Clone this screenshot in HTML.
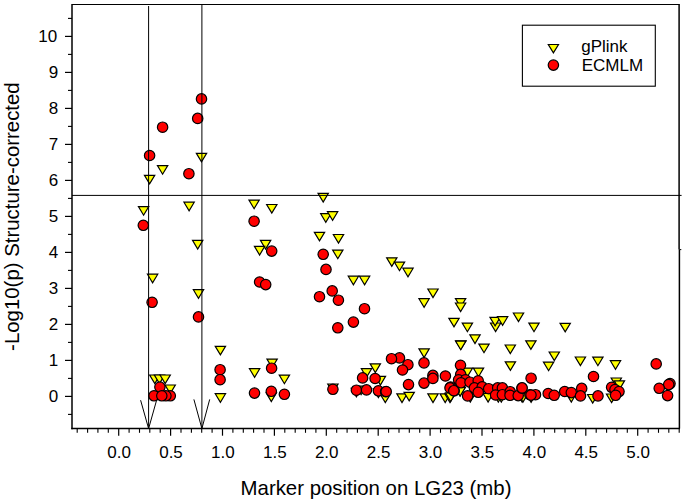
<!DOCTYPE html>
<html><head><meta charset="utf-8"><title>Marker position on LG23</title>
<style>
html,body{margin:0;padding:0;background:#fff;}
body{width:685px;height:503px;overflow:hidden;position:relative;font-family:"Liberation Sans",sans-serif;color:#000;}
svg{position:absolute;left:0;top:0;display:block;}
text{font-family:"Liberation Sans",sans-serif;fill:#000;}
.tk{font-size:17px;}
.ti{font-size:20.4px;}
.lg{font-size:17px;}
.t{fill:#ffff00;stroke:#000;stroke-width:1.2;stroke-linejoin:miter;}
.c{fill:#ff0000;stroke:#000;stroke-width:1.2;}
</style></head><body>
<svg width="685" height="503" viewBox="0 0 685 503">
<rect x="0" y="0" width="685" height="503" fill="#fff"/>
<g class="t"><polygon points="196.35,153.3 206.65,153.3 201.5,161.9"/><polygon points="157.45,165.6 167.75,165.6 162.6,174.2"/><polygon points="144.45,175.3 154.75,175.3 149.6,183.9"/><polygon points="183.95,202.2 194.25,202.2 189.1,210.8"/><polygon points="138.45,206.6 148.75,206.6 143.6,215.2"/><polygon points="192.55,240.4 202.85,240.4 197.7,249.0"/><polygon points="147.45,274.2 157.75,274.2 152.6,282.8"/><polygon points="193.35,289.7 203.65,289.7 198.5,298.3"/><polygon points="149.65,375.0 159.95,375.0 154.8,383.6"/><polygon points="154.35,375.0 164.65,375.0 159.5,383.6"/><polygon points="160.05,375.0 170.35,375.0 165.2,383.6"/><polygon points="165.05,385.0 175.35,385.0 170.2,393.6"/><polygon points="215.25,346.3 225.55,346.3 220.4,354.9"/><polygon points="215.25,393.7 225.55,393.7 220.4,402.3"/><polygon points="249.45,368.7 259.75,368.7 254.6,377.3"/><polygon points="266.95,359.1 277.25,359.1 272.1,367.7"/><polygon points="279.25,375.1 289.55,375.1 284.4,383.7"/><polygon points="266.15,392.9 276.45,392.9 271.3,401.5"/><polygon points="248.95,200.1 259.25,200.1 254.1,208.7"/><polygon points="266.65,204.5 276.95,204.5 271.8,213.1"/><polygon points="318.05,193.4 328.35,193.4 323.2,202.0"/><polygon points="320.65,213.7 330.95,213.7 325.8,222.3"/><polygon points="327.45,211.7 337.75,211.7 332.6,220.3"/><polygon points="314.35,232.3 324.65,232.3 319.5,240.9"/><polygon points="260.45,240.4 270.75,240.4 265.6,249.0"/><polygon points="254.45,246.4 264.75,246.4 259.6,255.0"/><polygon points="333.35,234.5 343.65,234.5 338.5,243.1"/><polygon points="332.65,250.1 342.95,250.1 337.8,258.7"/><polygon points="348.25,276.2 358.55,276.2 353.4,284.8"/><polygon points="359.45,276.2 369.75,276.2 364.6,284.8"/><polygon points="386.65,257.8 396.95,257.8 391.8,266.4"/><polygon points="394.35,262.1 404.65,262.1 399.5,270.7"/><polygon points="402.85,268.2 413.15,268.2 408.0,276.8"/><polygon points="427.85,289.0 438.15,289.0 433.0,297.6"/><polygon points="418.95,298.7 429.25,298.7 424.1,307.3"/><polygon points="455.45,298.6 465.75,298.6 460.6,307.2"/><polygon points="455.45,303.0 465.75,303.0 460.6,311.6"/><polygon points="448.85,318.3 459.15,318.3 454.0,326.9"/><polygon points="462.25,323.1 472.55,323.1 467.4,331.7"/><polygon points="469.85,334.9 480.15,334.9 475.0,343.5"/><polygon points="455.75,340.8 466.05,340.8 460.9,349.4"/><polygon points="478.85,344.1 489.15,344.1 484.0,352.7"/><polygon points="490.45,323.0 500.75,323.0 495.6,331.6"/><polygon points="489.95,317.3 500.25,317.3 495.1,325.9"/><polygon points="497.45,316.7 507.75,316.7 502.6,325.3"/><polygon points="513.35,313.0 523.65,313.0 518.5,321.6"/><polygon points="528.85,323.1 539.15,323.1 534.0,331.7"/><polygon points="560.05,323.3 570.35,323.3 565.2,331.9"/><polygon points="505.15,345.0 515.45,345.0 510.3,353.6"/><polygon points="525.75,340.8 536.05,340.8 530.9,349.4"/><polygon points="505.25,361.8 515.55,361.8 510.4,370.4"/><polygon points="473.35,368.1 483.65,368.1 478.5,376.7"/><polygon points="462.25,368.1 472.55,368.1 467.4,376.7"/><polygon points="549.15,352.0 559.45,352.0 554.3,360.6"/><polygon points="543.45,362.1 553.75,362.1 548.6,370.7"/><polygon points="575.25,357.0 585.55,357.0 580.4,365.6"/><polygon points="592.75,357.1 603.05,357.1 597.9,365.7"/><polygon points="610.35,360.7 620.65,360.7 615.5,369.3"/><polygon points="611.15,378.0 621.45,378.0 616.3,386.6"/><polygon points="614.25,380.9 624.55,380.9 619.4,389.5"/><polygon points="606.45,394.0 616.75,394.0 611.6,402.6"/><polygon points="370.15,363.9 380.45,363.9 375.3,372.5"/><polygon points="361.35,368.7 371.65,368.7 366.5,377.3"/><polygon points="375.25,376.4 385.55,376.4 380.4,385.0"/><polygon points="327.75,384.0 338.05,384.0 332.9,392.6"/><polygon points="351.25,388.3 361.55,388.3 356.4,396.9"/><polygon points="355.95,386.1 366.25,386.1 361.1,394.7"/><polygon points="380.15,394.0 390.45,394.0 385.3,402.6"/><polygon points="373.25,388.9 383.55,388.9 378.4,397.5"/><polygon points="418.95,348.9 429.25,348.9 424.1,357.5"/><polygon points="455.55,341.1 465.85,341.1 460.7,349.7"/><polygon points="396.85,393.9 407.15,393.9 402.0,402.5"/><polygon points="404.05,392.3 414.35,392.3 409.2,400.9"/><polygon points="427.85,393.9 438.15,393.9 433.0,402.5"/><polygon points="440.05,393.9 450.35,393.9 445.2,402.5"/><polygon points="444.85,393.9 455.15,393.9 450.0,402.5"/><polygon points="454.95,387.3 465.25,387.3 460.1,395.9"/><polygon points="454.95,387.5 465.25,387.5 460.1,396.1"/><polygon points="445.45,392.9 455.75,392.9 450.6,401.5"/><polygon points="482.95,393.4 493.25,393.4 488.1,402.0"/><polygon points="465.15,393.4 475.45,393.4 470.3,402.0"/><polygon points="493.15,393.4 503.45,393.4 498.3,402.0"/><polygon points="496.15,393.4 506.45,393.4 501.3,402.0"/><polygon points="516.95,393.4 527.25,393.4 522.1,402.0"/><polygon points="566.15,393.4 576.45,393.4 571.3,402.0"/><polygon points="587.55,394.5 597.85,394.5 592.7,403.1"/><polygon points="517.85,393.4 528.15,393.4 523.0,402.0"/><polygon points="525.95,393.8 536.25,393.8 531.1,402.4"/></g>
<g class="c"><circle cx="201.5" cy="98.9" r="5.2"/><circle cx="197.7" cy="118.4" r="5.2"/><circle cx="162.6" cy="127.2" r="5.2"/><circle cx="149.6" cy="155.5" r="5.2"/><circle cx="188.9" cy="173.7" r="5.2"/><circle cx="143.3" cy="225.3" r="5.2"/><circle cx="152.1" cy="302.3" r="5.2"/><circle cx="198.5" cy="316.9" r="5.2"/><circle cx="170.3" cy="395.8" r="5.2"/><circle cx="165.9" cy="395.8" r="5.2"/><circle cx="154.0" cy="395.8" r="5.2"/><circle cx="159.9" cy="387.1" r="5.2"/><circle cx="161.8" cy="395.8" r="5.2"/><circle cx="220.1" cy="369.7" r="5.2"/><circle cx="220.1" cy="379.7" r="5.2"/><circle cx="254.5" cy="393.1" r="5.2"/><circle cx="271.6" cy="368.2" r="5.2"/><circle cx="271.3" cy="391.3" r="5.2"/><circle cx="284.4" cy="394.3" r="5.2"/><circle cx="254.1" cy="221.2" r="5.2"/><circle cx="271.7" cy="251.1" r="5.2"/><circle cx="259.6" cy="282.0" r="5.2"/><circle cx="265.7" cy="284.6" r="5.2"/><circle cx="323.2" cy="254.3" r="5.2"/><circle cx="326.0" cy="269.4" r="5.2"/><circle cx="319.5" cy="296.7" r="5.2"/><circle cx="332.2" cy="290.9" r="5.2"/><circle cx="338.4" cy="300.2" r="5.2"/><circle cx="364.5" cy="308.7" r="5.2"/><circle cx="353.4" cy="322.1" r="5.2"/><circle cx="337.8" cy="327.8" r="5.2"/><circle cx="332.9" cy="389.3" r="5.2"/><circle cx="362.6" cy="377.9" r="5.2"/><circle cx="375.1" cy="378.5" r="5.2"/><circle cx="356.4" cy="390.2" r="5.2"/><circle cx="366.5" cy="389.9" r="5.2"/><circle cx="378.4" cy="390.8" r="5.2"/><circle cx="385.6" cy="391.7" r="5.2"/><circle cx="399.5" cy="357.9" r="5.2"/><circle cx="391.5" cy="358.7" r="5.2"/><circle cx="407.9" cy="364.7" r="5.2"/><circle cx="402.5" cy="370.0" r="5.2"/><circle cx="424.0" cy="362.9" r="5.2"/><circle cx="408.5" cy="384.6" r="5.2"/><circle cx="424.0" cy="383.1" r="5.2"/><circle cx="432.9" cy="375.4" r="5.2"/><circle cx="432.9" cy="378.4" r="5.2"/><circle cx="445.4" cy="376.0" r="5.2"/><circle cx="460.5" cy="365.3" r="5.2"/><circle cx="460.7" cy="374.4" r="5.2"/><circle cx="458.6" cy="379.8" r="5.2"/><circle cx="465.5" cy="379.8" r="5.2"/><circle cx="461.0" cy="382.8" r="5.2"/><circle cx="470.0" cy="382.2" r="5.2"/><circle cx="478.2" cy="380.8" r="5.2"/><circle cx="474.4" cy="387.9" r="5.2"/><circle cx="482.2" cy="386.9" r="5.2"/><circle cx="478.2" cy="392.3" r="5.2"/><circle cx="467.6" cy="395.9" r="5.2"/><circle cx="450.6" cy="387.0" r="5.2"/><circle cx="454.2" cy="390.8" r="5.2"/><circle cx="450.0" cy="387.9" r="5.2"/><circle cx="453.8" cy="390.7" r="5.2"/><circle cx="386.2" cy="391.5" r="5.2"/><circle cx="488.7" cy="388.7" r="5.2"/><circle cx="497.7" cy="387.9" r="5.2"/><circle cx="502.4" cy="387.9" r="5.2"/><circle cx="495.6" cy="395.0" r="5.2"/><circle cx="502.4" cy="394.7" r="5.2"/><circle cx="510.2" cy="391.7" r="5.2"/><circle cx="510.0" cy="395.3" r="5.2"/><circle cx="518.2" cy="395.6" r="5.2"/><circle cx="521.9" cy="388.1" r="5.2"/><circle cx="529.9" cy="394.7" r="5.2"/><circle cx="531.1" cy="378.2" r="5.2"/><circle cx="522.1" cy="387.9" r="5.2"/><circle cx="535.5" cy="394.7" r="5.2"/><circle cx="531.0" cy="395.1" r="5.2"/><circle cx="548.2" cy="393.5" r="5.2"/><circle cx="554.2" cy="395.3" r="5.2"/><circle cx="564.7" cy="391.5" r="5.2"/><circle cx="571.3" cy="392.6" r="5.2"/><circle cx="581.7" cy="388.4" r="5.2"/><circle cx="580.5" cy="395.9" r="5.2"/><circle cx="593.5" cy="376.5" r="5.2"/><circle cx="598.0" cy="395.9" r="5.2"/><circle cx="611.6" cy="387.3" r="5.2"/><circle cx="615.0" cy="389.6" r="5.2"/><circle cx="619.0" cy="391.6" r="5.2"/><circle cx="615.6" cy="395.3" r="5.2"/><circle cx="656.2" cy="363.9" r="5.2"/><circle cx="670.0" cy="383.6" r="5.2"/><circle cx="668.7" cy="384.6" r="5.2"/><circle cx="659.2" cy="388.3" r="5.2"/><circle cx="667.6" cy="395.6" r="5.2"/></g>
<g stroke="#000" fill="none"><line x1="72.0" y1="3.95" x2="72.0" y2="429.3" stroke-width="1.5"/><line x1="71.3" y1="428.6" x2="680.0" y2="428.6" stroke-width="1.5"/><line x1="72.0" y1="4.45" x2="679.8" y2="4.45" stroke-width="1.1"/><line x1="679.0999999999999" y1="4.45" x2="679.0999999999999" y2="249.5" stroke-width="1.5"/><line x1="679.4" y1="249.5" x2="679.4" y2="428.6" stroke-width="1.5"/><line x1="679.3" y1="249.6" x2="681.3" y2="249.6" stroke-width="1"/><line x1="68" y1="414.4" x2="72.0" y2="414.4" stroke-width="1.1"/><line x1="65" y1="396.4" x2="72.0" y2="396.4" stroke-width="1.2"/><line x1="68" y1="378.4" x2="72.0" y2="378.4" stroke-width="1.1"/><line x1="65" y1="360.4" x2="72.0" y2="360.4" stroke-width="1.2"/><line x1="68" y1="342.4" x2="72.0" y2="342.4" stroke-width="1.1"/><line x1="65" y1="324.4" x2="72.0" y2="324.4" stroke-width="1.2"/><line x1="68" y1="306.4" x2="72.0" y2="306.4" stroke-width="1.1"/><line x1="65" y1="288.4" x2="72.0" y2="288.4" stroke-width="1.2"/><line x1="68" y1="270.4" x2="72.0" y2="270.4" stroke-width="1.1"/><line x1="65" y1="252.4" x2="72.0" y2="252.4" stroke-width="1.2"/><line x1="68" y1="234.4" x2="72.0" y2="234.4" stroke-width="1.1"/><line x1="65" y1="216.4" x2="72.0" y2="216.4" stroke-width="1.2"/><line x1="68" y1="198.4" x2="72.0" y2="198.4" stroke-width="1.1"/><line x1="65" y1="180.4" x2="72.0" y2="180.4" stroke-width="1.2"/><line x1="68" y1="162.4" x2="72.0" y2="162.4" stroke-width="1.1"/><line x1="65" y1="144.4" x2="72.0" y2="144.4" stroke-width="1.2"/><line x1="68" y1="126.4" x2="72.0" y2="126.4" stroke-width="1.1"/><line x1="65" y1="108.4" x2="72.0" y2="108.4" stroke-width="1.2"/><line x1="68" y1="90.4" x2="72.0" y2="90.4" stroke-width="1.1"/><line x1="65" y1="72.4" x2="72.0" y2="72.4" stroke-width="1.2"/><line x1="68" y1="54.4" x2="72.0" y2="54.4" stroke-width="1.1"/><line x1="65" y1="36.4" x2="72.0" y2="36.4" stroke-width="1.2"/><line x1="68" y1="18.4" x2="72.0" y2="18.4" stroke-width="1.1"/><line x1="77.2" y1="428.6" x2="77.2" y2="432.8" stroke-width="1.1"/><line x1="87.6" y1="428.6" x2="87.6" y2="432.8" stroke-width="1.1"/><line x1="97.9" y1="428.6" x2="97.9" y2="432.8" stroke-width="1.1"/><line x1="108.3" y1="428.6" x2="108.3" y2="432.8" stroke-width="1.1"/><line x1="118.7" y1="428.6" x2="118.7" y2="435.7" stroke-width="1.2"/><line x1="129.1" y1="428.6" x2="129.1" y2="432.8" stroke-width="1.1"/><line x1="139.5" y1="428.6" x2="139.5" y2="432.8" stroke-width="1.1"/><line x1="149.8" y1="428.6" x2="149.8" y2="432.8" stroke-width="1.1"/><line x1="160.2" y1="428.6" x2="160.2" y2="432.8" stroke-width="1.1"/><line x1="170.6" y1="428.6" x2="170.6" y2="435.7" stroke-width="1.2"/><line x1="181.0" y1="428.6" x2="181.0" y2="432.8" stroke-width="1.1"/><line x1="191.4" y1="428.6" x2="191.4" y2="432.8" stroke-width="1.1"/><line x1="201.7" y1="428.6" x2="201.7" y2="432.8" stroke-width="1.1"/><line x1="212.1" y1="428.6" x2="212.1" y2="432.8" stroke-width="1.1"/><line x1="222.5" y1="428.6" x2="222.5" y2="435.7" stroke-width="1.2"/><line x1="232.9" y1="428.6" x2="232.9" y2="432.8" stroke-width="1.1"/><line x1="243.3" y1="428.6" x2="243.3" y2="432.8" stroke-width="1.1"/><line x1="253.6" y1="428.6" x2="253.6" y2="432.8" stroke-width="1.1"/><line x1="264.0" y1="428.6" x2="264.0" y2="432.8" stroke-width="1.1"/><line x1="274.4" y1="428.6" x2="274.4" y2="435.7" stroke-width="1.2"/><line x1="284.8" y1="428.6" x2="284.8" y2="432.8" stroke-width="1.1"/><line x1="295.2" y1="428.6" x2="295.2" y2="432.8" stroke-width="1.1"/><line x1="305.5" y1="428.6" x2="305.5" y2="432.8" stroke-width="1.1"/><line x1="315.9" y1="428.6" x2="315.9" y2="432.8" stroke-width="1.1"/><line x1="326.3" y1="428.6" x2="326.3" y2="435.7" stroke-width="1.2"/><line x1="336.7" y1="428.6" x2="336.7" y2="432.8" stroke-width="1.1"/><line x1="347.1" y1="428.6" x2="347.1" y2="432.8" stroke-width="1.1"/><line x1="357.4" y1="428.6" x2="357.4" y2="432.8" stroke-width="1.1"/><line x1="367.8" y1="428.6" x2="367.8" y2="432.8" stroke-width="1.1"/><line x1="378.2" y1="428.6" x2="378.2" y2="435.7" stroke-width="1.2"/><line x1="388.6" y1="428.6" x2="388.6" y2="432.8" stroke-width="1.1"/><line x1="399.0" y1="428.6" x2="399.0" y2="432.8" stroke-width="1.1"/><line x1="409.3" y1="428.6" x2="409.3" y2="432.8" stroke-width="1.1"/><line x1="419.7" y1="428.6" x2="419.7" y2="432.8" stroke-width="1.1"/><line x1="430.1" y1="428.6" x2="430.1" y2="435.7" stroke-width="1.2"/><line x1="440.5" y1="428.6" x2="440.5" y2="432.8" stroke-width="1.1"/><line x1="450.9" y1="428.6" x2="450.9" y2="432.8" stroke-width="1.1"/><line x1="461.2" y1="428.6" x2="461.2" y2="432.8" stroke-width="1.1"/><line x1="471.6" y1="428.6" x2="471.6" y2="432.8" stroke-width="1.1"/><line x1="482.0" y1="428.6" x2="482.0" y2="435.7" stroke-width="1.2"/><line x1="492.4" y1="428.6" x2="492.4" y2="432.8" stroke-width="1.1"/><line x1="502.8" y1="428.6" x2="502.8" y2="432.8" stroke-width="1.1"/><line x1="513.1" y1="428.6" x2="513.1" y2="432.8" stroke-width="1.1"/><line x1="523.5" y1="428.6" x2="523.5" y2="432.8" stroke-width="1.1"/><line x1="533.9" y1="428.6" x2="533.9" y2="435.7" stroke-width="1.2"/><line x1="544.3" y1="428.6" x2="544.3" y2="432.8" stroke-width="1.1"/><line x1="554.7" y1="428.6" x2="554.7" y2="432.8" stroke-width="1.1"/><line x1="565.0" y1="428.6" x2="565.0" y2="432.8" stroke-width="1.1"/><line x1="575.4" y1="428.6" x2="575.4" y2="432.8" stroke-width="1.1"/><line x1="585.8" y1="428.6" x2="585.8" y2="435.7" stroke-width="1.2"/><line x1="596.2" y1="428.6" x2="596.2" y2="432.8" stroke-width="1.1"/><line x1="606.6" y1="428.6" x2="606.6" y2="432.8" stroke-width="1.1"/><line x1="616.9" y1="428.6" x2="616.9" y2="432.8" stroke-width="1.1"/><line x1="627.3" y1="428.6" x2="627.3" y2="432.8" stroke-width="1.1"/><line x1="637.7" y1="428.6" x2="637.7" y2="435.7" stroke-width="1.2"/><line x1="648.1" y1="428.6" x2="648.1" y2="432.8" stroke-width="1.1"/><line x1="658.5" y1="428.6" x2="658.5" y2="432.8" stroke-width="1.1"/><line x1="668.8" y1="428.6" x2="668.8" y2="432.8" stroke-width="1.1"/><line x1="679.2" y1="428.6" x2="679.2" y2="432.8" stroke-width="1.1"/><line x1="72.0" y1="195.4" x2="681.6" y2="195.4" stroke-width="1"/><line x1="148.6" y1="6" x2="148.6" y2="428.6" stroke-width="1"/><line x1="201.9" y1="4.45" x2="201.9" y2="428.6" stroke-width="1"/><polyline points="140.6,400.2 148.6,428.6 156.6,400.2" stroke-width="1"/><polyline points="193.9,399.4 201.9,428.6 209.7,399.4" stroke-width="1"/><rect x="522.4" y="25.2" width="132.9" height="61" fill="#fff" stroke-width="1.1"/></g>
<polygon class="t" points="548.3,44.5 558.5,44.5 553.4,52.9"/><circle class="c" cx="553.4" cy="65.1" r="5.2"/><text class="lg" x="581.2" y="52">gPlink</text><text class="lg" x="581.7" y="70.8">ECMLM</text><text class="tk" x="58.2" y="401.8" text-anchor="end">0</text><text class="tk" x="58.2" y="365.8" text-anchor="end">1</text><text class="tk" x="58.2" y="329.8" text-anchor="end">2</text><text class="tk" x="58.2" y="293.8" text-anchor="end">3</text><text class="tk" x="58.2" y="257.8" text-anchor="end">4</text><text class="tk" x="58.2" y="221.8" text-anchor="end">5</text><text class="tk" x="58.2" y="185.8" text-anchor="end">6</text><text class="tk" x="58.2" y="149.8" text-anchor="end">7</text><text class="tk" x="58.2" y="113.8" text-anchor="end">8</text><text class="tk" x="58.2" y="77.8" text-anchor="end">9</text><text class="tk" x="57.2" y="41.8" text-anchor="end">10</text><text class="tk" x="119.1" y="457.8" text-anchor="middle">0.0</text><text class="tk" x="171.0" y="457.8" text-anchor="middle">0.5</text><text class="tk" x="222.9" y="457.8" text-anchor="middle">1.0</text><text class="tk" x="274.8" y="457.8" text-anchor="middle">1.5</text><text class="tk" x="326.7" y="457.8" text-anchor="middle">2.0</text><text class="tk" x="378.6" y="457.8" text-anchor="middle">2.5</text><text class="tk" x="430.5" y="457.8" text-anchor="middle">3.0</text><text class="tk" x="482.4" y="457.8" text-anchor="middle">3.5</text><text class="tk" x="534.3" y="457.8" text-anchor="middle">4.0</text><text class="tk" x="586.2" y="457.8" text-anchor="middle">4.5</text><text class="tk" x="638.1" y="457.8" text-anchor="middle">5.0</text><text class="ti" x="376" y="494.6" text-anchor="middle">Marker position on LG23 (mb)</text><text class="ti" transform="translate(19,216.6) rotate(-90)" text-anchor="middle">-Log10(p) Structure-corrected</text></svg>
</body></html>
